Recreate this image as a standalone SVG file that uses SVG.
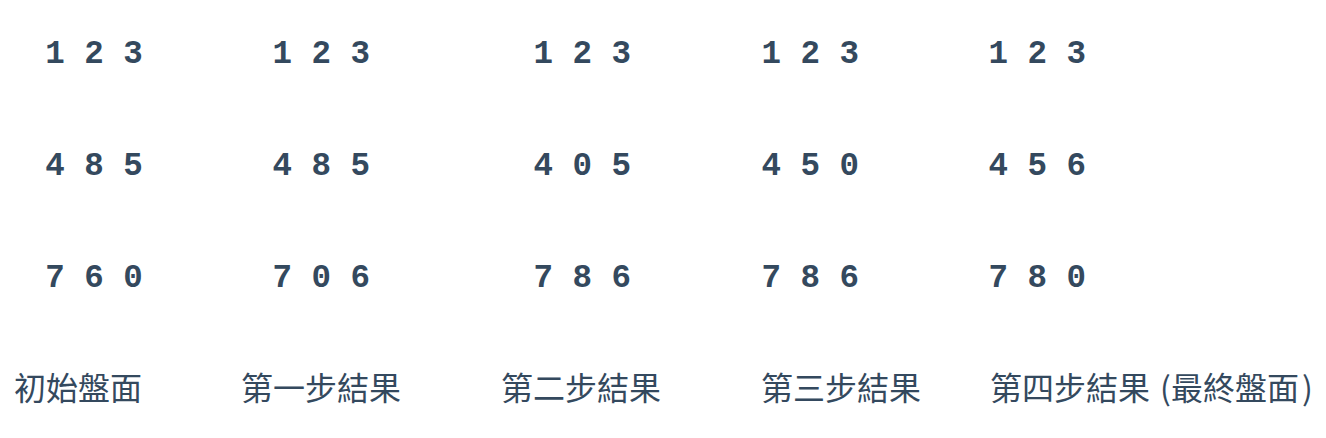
<svg xmlns="http://www.w3.org/2000/svg" width="1326" height="438" viewBox="0 0 1326 438">
<style>
.d{font-family:"Liberation Mono","Courier New",monospace;font-weight:bold;font-size:32.5px;fill:#34495e;white-space:pre}
.l{font-family:"Noto Sans CJK TC","Noto Sans CJK SC",sans-serif;font-size:32px;fill:#34495e;white-space:pre}
</style>
<rect width="1326" height="438" fill="#ffffff"/>
<g id="board0">
<text class="d" x="45.3" y="63">1 2 3</text>
<text class="d" x="45.3" y="175">4 8 5</text>
<text class="d" x="45.3" y="287">7 6 0</text>
<text class="l" x="14" y="399.5">初始盤面</text>
</g>
<g id="board1">
<text class="d" x="272.5" y="63">1 2 3</text>
<text class="d" x="272.5" y="175">4 8 5</text>
<text class="d" x="272.5" y="287">7 0 6</text>
<text class="l" x="241" y="399.5">第一步結果</text>
</g>
<g id="board2">
<text class="d" x="533.5" y="63">1 2 3</text>
<text class="d" x="533.5" y="175">4 0 5</text>
<text class="d" x="533.5" y="287">7 8 6</text>
<text class="l" x="501" y="399.5">第二步結果</text>
</g>
<g id="board3">
<text class="d" x="761.5" y="63">1 2 3</text>
<text class="d" x="761.5" y="175">4 5 0</text>
<text class="d" x="761.5" y="287">7 8 6</text>
<text class="l" x="761" y="399.5">第三步結果</text>
</g>
<g id="board4">
<text class="d" x="988.5" y="63">1 2 3</text>
<text class="d" x="988.5" y="175">4 5 6</text>
<text class="d" x="988.5" y="287">7 8 0</text>
<text class="l" x="990" y="399.5">第四步結果<tspan x="1160">(</tspan><tspan x="1171">最終盤面</tspan><tspan x="1302">)</tspan></text>
</g>
<g id="connectors"></g>
</svg>
